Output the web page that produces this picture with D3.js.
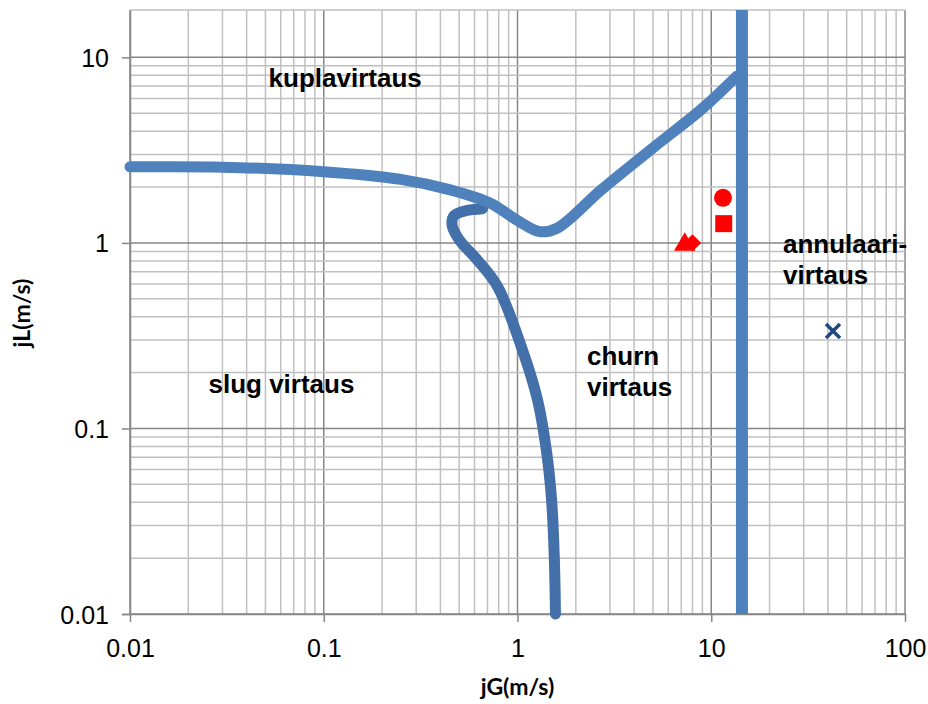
<!DOCTYPE html>
<html>
<head>
<meta charset="utf-8">
<script src="https://cdn.jsdelivr.net/npm/d3@7"></script>
<style>
  body { margin: 0; background: #fff; }
  svg { font-family: Lato, "Open Sans", sans-serif; }
  .region { font-family: "Liberation Sans", Arial, sans-serif; font-weight: bold; font-size: 26px; }
</style>
</head>
<body>
<div id="chart"></div>
<script>
// flow regime map, jG vs jL (log-log)
const xTicks = [0.01, 0.1, 1, 10, 100];
const yTicks = [0.01, 0.1, 1, 10];
const xTickLabels = ["0.01", "0.1", "1", "10", "100"];
const yTickLabels = ["0.01", "0.1", "1", "10"];

// boundary: bubble / slug + churn
const bubbleX = [0.01, 0.03, 0.1, 0.25, 0.45, 0.72, 1.0, 1.3, 1.6, 2.7, 5, 9, 13.5];
const bubbleY = [2.57, 2.56, 2.42, 2.2, 1.93, 1.64, 1.32, 1.15, 1.2, 1.93, 3.25, 5.3, 7.9];

// boundary: slug / churn
const slugX = [0.66, 0.54, 0.47, 0.46, 0.5, 0.62, 0.79, 1.06, 1.27, 1.41, 1.5, 1.55, 1.57];
const slugY = [1.53, 1.49, 1.40, 1.24, 1.04, 0.81, 0.58, 0.265, 0.142, 0.076, 0.041, 0.0195, 0.01];

// boundary: churn / annular
const annularX = [14.4, 14.4];
const annularY = [0.01, 18];

// measured points
const circleX = [11.5], circleY = [1.75];
const squareX = [11.6], squareY = [1.27];
const triangleX = [7.3], triangleY = [0.98];
const diamondX = [8.0], diamondY = [1.0];
const crossX = [42.5], crossY = [0.335];

const regionLabels = [
  {lines: ["kuplavirtaus"], x: 0.129, y: 6.96, anchor: "middle"},
  {lines: ["slug virtaus"], x: 0.0605, y: 0.155, anchor: "middle"},
  {lines: ["churn", "virtaus"], x: 2.285, y: 0.22, anchor: "start"},
  {lines: ["annulaari-", "virtaus"], x: 23.46, y: 0.887, anchor: "start"}
];

const width = 928, height = 704;
const margin = {top: 10, right: 23, bottom: 90, left: 130};

const svg = d3.select("#chart").append("svg")
  .attr("width", width)
  .attr("height", height);

const x = d3.scaleLog().domain([0.01, 100]).range([margin.left, width - margin.right]);
const y = d3.scaleLog().domain([0.01, 18]).range([height - margin.bottom, margin.top]);

// minor grid values
function minorValues(lo, hi) {
  let vals = [];
  for (let e = -2; e <= 2; e++) {
    for (let k = 1; k <= 9; k++) {
      let v = k * Math.pow(10, e);
      if (v >= lo * 0.9999 && v <= hi * 1.0001) vals.push(v);
    }
  }
  return vals;
}

const grid = svg.append("g");
grid.selectAll("line.vx")
  .data(minorValues(0.01, 100))
  .enter().append("line")
  .attr("x1", d => x(d)).attr("x2", d => x(d))
  .attr("y1", y.range()[1]).attr("y2", y.range()[0])
  .attr("stroke", d => xTicks.includes(+d.toPrecision(3)) ? "#868686" : "#c0c0c0")
  .attr("stroke-width", 1.5);
grid.selectAll("line.hy")
  .data(minorValues(0.01, 18))
  .enter().append("line")
  .attr("y1", d => y(d)).attr("y2", d => y(d))
  .attr("x1", x.range()[0]).attr("x2", x.range()[1])
  .attr("stroke", d => yTicks.includes(+d.toPrecision(3)) ? "#868686" : "#c0c0c0")
  .attr("stroke-width", 1.5);
// top border
grid.append("line")
  .attr("x1", x.range()[0]).attr("x2", x.range()[1])
  .attr("y1", y.range()[1]).attr("y2", y.range()[1])
  .attr("stroke", "#c0c0c0").attr("stroke-width", 1.5);

// axes
const xAxis = d3.axisBottom(x).tickValues(xTicks)
  .tickFormat((d, i) => xTickLabels[i]).tickSize(8).tickSizeOuter(0);
const yAxis = d3.axisLeft(y).tickValues(yTicks)
  .tickFormat((d, i) => yTickLabels[i]).tickSize(8).tickSizeOuter(0);

const gx = svg.append("g")
  .attr("transform", `translate(0,${y.range()[0]})`)
  .call(xAxis);
const gy = svg.append("g")
  .attr("transform", `translate(${x.range()[0]},0)`)
  .call(yAxis);

[gx, gy].forEach(g => {
  g.select(".domain").attr("stroke", "#868686").attr("stroke-width", 1.5);
  g.selectAll(".tick line").attr("stroke", "#868686").attr("stroke-width", 1.5);
  g.selectAll(".tick text").attr("fill", "#000").style("font-size", "25px");
});
gx.selectAll(".tick text").attr("y", 43).attr("dy", 0);
gy.selectAll(".tick text").attr("x", -21).attr("dy", "0.36em");
// let the x axis line run under the left ticks
gx.select(".domain").attr("d", `M${x.range()[0] - 8},0.5H${x.range()[1]}`);

// axis titles
svg.append("text")
  .attr("x", (x.range()[0] + x.range()[1]) / 2)
  .attr("y", 695)
  .attr("text-anchor", "middle")
  .style("font-size", "23px").style("font-weight", "bold")
  .text("jG(m/s)");
svg.append("text")
  .attr("transform", "translate(30,313) rotate(-90)")
  .attr("text-anchor", "middle")
  .style("font-size", "23px").style("font-weight", "bold")
  .text("jL(m/s)");

// boundary lines
const line = d3.line()
  .x(d => x(d[0])).y(d => y(d[1]))
  .curve(d3.curveCatmullRom.alpha(0.5));

svg.append("path")
  .datum(slugX.map((v, i) => [v, slugY[i]]))
  .attr("d", line)
  .attr("fill", "none").attr("stroke", "#4370a8")
  .attr("stroke-width", 11).attr("stroke-linecap", "round").attr("stroke-linejoin", "round");

svg.append("path")
  .datum(bubbleX.map((v, i) => [v, bubbleY[i]]))
  .attr("d", line)
  .attr("fill", "none").attr("stroke", "#4f81bd")
  .attr("stroke-width", 11).attr("stroke-linecap", "round").attr("stroke-linejoin", "round");

svg.append("path")
  .datum(annularX.map((v, i) => [v, annularY[i]]))
  .attr("d", d3.line().x(d => x(d[0])).y(d => y(d[1])))
  .attr("fill", "none").attr("stroke", "#4f81bd")
  .attr("stroke-width", 12);

// markers
const red = "#ff0000";
svg.selectAll("circle.pt")
  .data(circleX.map((v, i) => [v, circleY[i]]))
  .enter().append("circle")
  .attr("cx", d => x(d[0])).attr("cy", d => y(d[1]))
  .attr("r", 9).attr("fill", red);

const sym = (type, size) => d3.symbol().type(type).size(size);
svg.selectAll("path.sq")
  .data(squareX.map((v, i) => [v, squareY[i]]))
  .enter().append("path")
  .attr("transform", d => `translate(${x(d[0])},${y(d[1])})`)
  .attr("d", sym(d3.symbolSquare, 289)).attr("fill", red);

svg.selectAll("path.tri")
  .data(triangleX.map((v, i) => [v, triangleY[i]]))
  .enter().append("path")
  .attr("transform", d => `translate(${x(d[0])},${y(d[1])})`)
  .attr("d", sym(d3.symbolTriangle, 200)).attr("fill", red);

svg.selectAll("path.dia")
  .data(diamondX.map((v, i) => [v, diamondY[i]]))
  .enter().append("path")
  .attr("transform", d => `translate(${x(d[0])},${y(d[1])}) rotate(45)`)
  .attr("d", sym(d3.symbolSquare, 150)).attr("fill", red);

svg.selectAll("path.x")
  .data(crossX.map((v, i) => [v, crossY[i]]))
  .enter().append("path")
  .attr("transform", d => `translate(${x(d[0])},${y(d[1])})`)
  .attr("d", "M-7,-7L7,7M-7,7L7,-7")
  .attr("stroke", "#1f497d").attr("stroke-width", 3.5).attr("fill", "none");

// region labels
regionLabels.forEach(r => {
  const t = svg.append("text")
    .attr("class", "region")
    .attr("x", x(r.x)).attr("y", y(r.y))
    .attr("text-anchor", r.anchor);
  r.lines.forEach((s, i) => {
    t.append("tspan").attr("x", x(r.x)).attr("dy", i === 0 ? 0 : 31).text(s);
  });
});
</script>
</body>
</html>
